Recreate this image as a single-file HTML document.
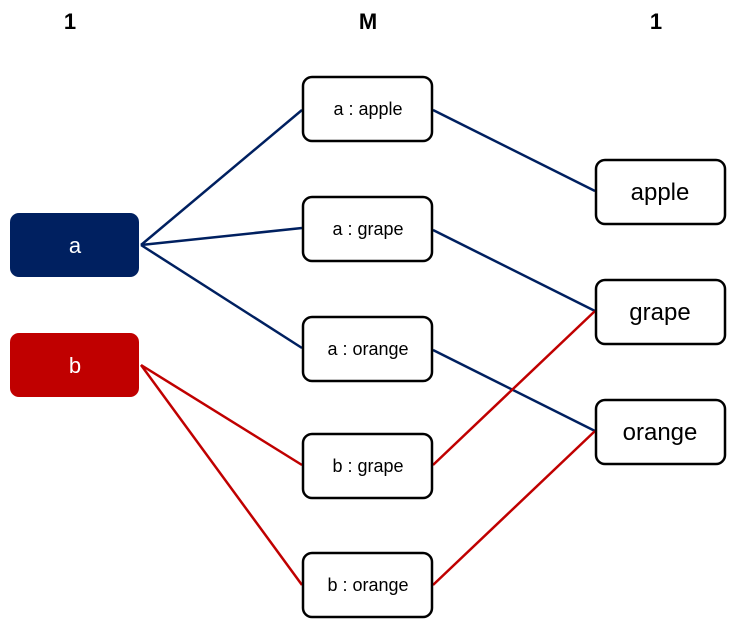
<!DOCTYPE html>
<html><head><meta charset="utf-8"><style>
html,body{margin:0;padding:0;background:#fff;}
svg{display:block;font-family:"Liberation Sans","DejaVu Sans",sans-serif;}
</style></head><body>
<svg width="740" height="629" viewBox="0 0 740 629">
<g font-size="22" font-weight="bold" text-anchor="middle" fill="#000">
<text x="70" y="29">1</text>
<text x="368" y="29">M</text>
<text x="656" y="29">1</text>
</g>
<g stroke="#002060" stroke-width="2.5" fill="none">
<line x1="141" y1="245" x2="302" y2="110"/>
<line x1="141" y1="245" x2="302" y2="228"/>
<line x1="141" y1="245" x2="302" y2="348"/>
<line x1="433" y1="110" x2="595" y2="191"/>
<line x1="433" y1="230" x2="595" y2="311"/>
<line x1="433" y1="350" x2="595" y2="431"/>
</g>
<g stroke="#C00000" stroke-width="2.5" fill="none">
<line x1="141" y1="365" x2="302" y2="465"/>
<line x1="141" y1="365" x2="302" y2="585"/>
<line x1="433" y1="465" x2="595" y2="311"/>
<line x1="433" y1="585" x2="595" y2="431"/>
</g>
<rect x="10" y="213" width="129" height="64" rx="9" fill="#002060"/>
<text x="75" y="253" font-size="22" fill="#fff" text-anchor="middle">a</text>
<rect x="10" y="333" width="129" height="64" rx="9" fill="#C00000"/>
<text x="75" y="373" font-size="22" fill="#fff" text-anchor="middle">b</text>
<g fill="#fff" stroke="#000" stroke-width="2.5">
<rect x="303" y="77" width="129" height="64" rx="9"/>
<rect x="303" y="197" width="129" height="64" rx="9"/>
<rect x="303" y="317" width="129" height="64" rx="9"/>
<rect x="303" y="434" width="129" height="64" rx="9"/>
<rect x="303" y="553" width="129" height="64" rx="9"/>
<rect x="596" y="160" width="129" height="64" rx="9"/>
<rect x="596" y="280" width="129" height="64" rx="9"/>
<rect x="596" y="400" width="129" height="64" rx="9"/>
</g>
<g font-size="18" fill="#000" text-anchor="middle">
<text x="368" y="115">a : apple</text>
<text x="368" y="235">a : grape</text>
<text x="368" y="355">a : orange</text>
<text x="368" y="472">b : grape</text>
<text x="368" y="591">b : orange</text>
</g>
<g font-size="24" fill="#000" text-anchor="middle">
<text x="660" y="200">apple</text>
<text x="660" y="320">grape</text>
<text x="660" y="440">orange</text>
</g>
</svg>
</body></html>
